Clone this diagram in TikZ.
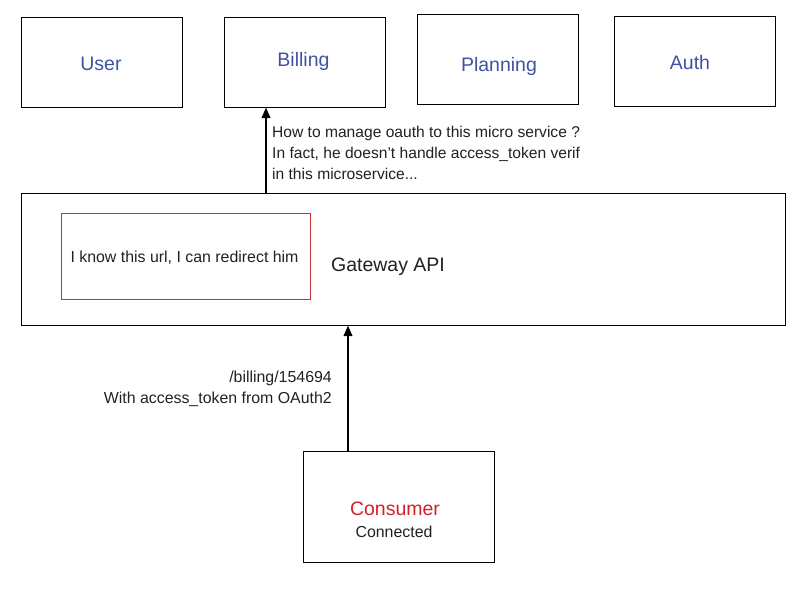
\documentclass[tikz,border=0pt]{standalone}
\usepackage{fontspec}
\setmainfont{Liberation Sans}
\usetikzlibrary{arrows.meta}
\definecolor{svcblue}{RGB}{63,81,165}
\definecolor{conred}{RGB}{211,32,40}
\definecolor{boxred}{RGB}{200,50,50}
\definecolor{txt}{RGB}{33,33,33}
\tikzset{
  box/.style={draw=black, line width=1pt, rectangle, inner sep=0pt},
  svc/.style={box, minimum width=161pt, minimum height=90pt},
  svctxt/.style={inner sep=0pt, text=svcblue, font=\fontsize{19.5}{23}\selectfont},
  small/.style={text=txt, inner sep=0pt, font=\fontsize{15.9}{20.7}\selectfont},
  big/.style={inner sep=0pt, font=\fontsize{19.5}{23}\selectfont},
  arr/.style={line width=2pt, -{Triangle[width=8.5pt,length=10.5pt]}},
}
\begin{document}
\begin{tikzpicture}[x=1pt,y=-1pt]
\useasboundingbox (0,0) rectangle (800,600);
\node[svc] (user) at (101.5,62) {};
\node[svc] (billing) at (305,62) {};
\node[svc] (planning) at (498,59.5) {};
\node[svc] (auth) at (695,61.5) {};
\node[svctxt] (usertxt) at (101,64) {User};
\node[svctxt] (billingtxt) at (303.5,61.5) {Billing};
\node[svctxt] (planningtxt) at (499,66) {Planning};
\node[svctxt] (authtxt) at (690,63) {Auth};
\node[box, minimum width=764pt, minimum height=132pt] (gw) at (403,259) {};
\node[box, draw=boxred, minimum width=249pt, minimum height=86pt] (redir) at (185.5,256) {};
\node[small] (redirtxt) at (184.5,257.5) {I know this url, I can redirect him};
\node[big, text=txt] (gwtxt) at (388,266.5) {Gateway API};
\node[box, minimum width=191pt, minimum height=111pt] (consumer) at (398.5,506.5) {};
\node[big, text=conred] (contitle) at (395,509) {Consumer};
\node[small] (conn) at (394,532) {Connected};
\coordinate (a1) at (266,193);
\draw[arr] (a1) -- (a1 |- billing.south);
\coordinate (a2) at (348,451);
\draw[arr] (a2) -- (a2 |- gw.south);
\node[small, anchor=west, align=left, font=\fontsize{15.6}{20.7}\selectfont] (lab1) at (272,153) {How to manage oauth to this micro service ?\\In fact, he doesn't handle access\_token verif\\in this microservice...};
\node[small, anchor=east, align=right] (lab2) at (332,388.5) {/billing/154694\\With access\_token from OAuth2};
\end{tikzpicture}
\end{document}
